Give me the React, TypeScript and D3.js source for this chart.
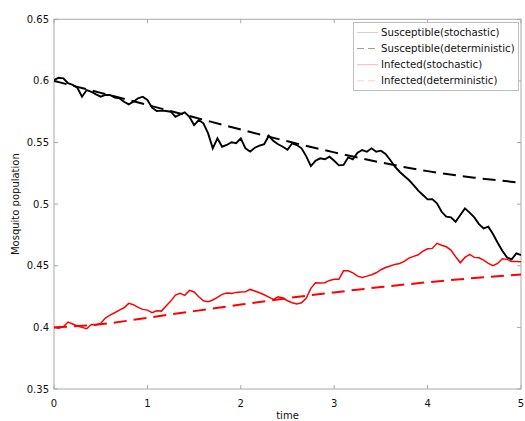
import React from "react";
import * as d3 from "d3";

const W = 525;
const H = 421;
const X0 = 54;
const X1 = 521;
const Y_TOP = 19.3;
const Y_BOT = 389;

const timeTicks = [0, 1, 2, 3, 4, 5];
const popTicks = [0.35, 0.4, 0.45, 0.5, 0.55, 0.6, 0.65];

// Stochastic runs sampled every 0.05 time units, t = 0 … 5
const stochasticStep = 0.05;
const susceptibleStochastic = [
  0.6007, 0.6026, 0.6021, 0.5981, 0.5967, 0.5945, 0.5872, 0.5926, 0.5912, 0.5891,
  0.5872, 0.5886, 0.5886, 0.5864, 0.5859, 0.5831, 0.581, 0.5831, 0.5859, 0.5872,
  0.5845, 0.5783, 0.5756, 0.5759, 0.5756, 0.575, 0.5709, 0.5728, 0.5745, 0.5709,
  0.5642, 0.5683, 0.5656, 0.5574, 0.5453, 0.5534, 0.5466, 0.548, 0.5502, 0.5494,
  0.5534, 0.5453, 0.5426, 0.5458, 0.5475, 0.5486, 0.5555, 0.5512, 0.5486, 0.5466,
  0.5441, 0.5494, 0.548, 0.5453, 0.539, 0.5309, 0.5352, 0.5372, 0.5364, 0.5385,
  0.5352, 0.5315, 0.5318, 0.538, 0.5364, 0.5417, 0.5439, 0.5425, 0.5453, 0.5425,
  0.5434, 0.5407, 0.5358, 0.5304, 0.5263, 0.5228, 0.5196, 0.5155, 0.5109, 0.5074,
  0.5039, 0.5041, 0.5006, 0.4938, 0.4898, 0.4893, 0.4857, 0.4912, 0.4966, 0.4931,
  0.4893, 0.4838, 0.4803, 0.4817, 0.4757, 0.4687, 0.4622, 0.4568, 0.4552, 0.46,
  0.4587,
];
const infectedStochastic = [
  0.4, 0.3994, 0.4005, 0.4043, 0.4027, 0.4011, 0.4, 0.3989, 0.4024, 0.4021,
  0.4032, 0.4076, 0.41, 0.4119, 0.414, 0.4159, 0.4195, 0.4184, 0.4162, 0.4146,
  0.414, 0.4119, 0.4135, 0.4132, 0.4173, 0.4213, 0.4262, 0.4276, 0.426, 0.43,
  0.4287, 0.4248, 0.4216, 0.4208, 0.4222, 0.4243, 0.4268, 0.4278, 0.4276, 0.4284,
  0.4287, 0.4289, 0.4308, 0.4295, 0.4281, 0.4265, 0.4246, 0.4227, 0.4248, 0.4238,
  0.4216, 0.42, 0.4189, 0.42, 0.4235, 0.4317, 0.4362, 0.436, 0.4362, 0.4381,
  0.439, 0.439, 0.4459, 0.4459, 0.4443, 0.4416, 0.4406, 0.4416, 0.4427, 0.4443,
  0.4468, 0.4486, 0.4498, 0.4511, 0.4519, 0.4535, 0.4562, 0.4576, 0.4589, 0.4619,
  0.4638, 0.4641, 0.4682, 0.4666, 0.4654, 0.4627, 0.4573, 0.4524, 0.4568, 0.4592,
  0.4568, 0.4565, 0.4546, 0.4519, 0.45, 0.4519, 0.4557, 0.4552, 0.4535, 0.4535,
  0.4532,
];

// Deterministic solutions sampled every 0.5 time units
const deterministicTime = [0, 0.5, 1, 1.5, 2, 2.5, 3, 3.5, 4, 4.5, 5];
const susceptibleDeterministic = [
  0.6, 0.5903, 0.5805, 0.5705, 0.5605, 0.551, 0.542, 0.5338, 0.5268, 0.5215, 0.5174,
];
const infectedDeterministic = [
  0.4, 0.4025, 0.4078, 0.4132, 0.4185, 0.4237, 0.4284, 0.4327, 0.4366, 0.44, 0.443,
];

const legendItems = [
  { label: "Susceptible(stochastic)", color: "#d2d2d2", dash: null },
  { label: "Susceptible(deterministic)", color: "#9a9a9a", dash: "7,4" },
  { label: "Infected(stochastic)", color: "#ffb4b4", dash: null },
  { label: "Infected(deterministic)", color: "#ffcccc", dash: "7,4" },
];

const FONT = "'DejaVu Sans', Verdana, sans-serif";
const FRAME = "#a8a8a8";

export default function App() {
  const x = d3.scaleLinear().domain([0, 5]).range([X0, X1]);
  const y = d3.scaleLinear().domain([0.35, 0.65]).range([Y_BOT, Y_TOP]);

  const pts = (vals: number[]) =>
    vals.map((v, i) => [i * stochasticStep, v] as [number, number]);
  const detPts = (vals: number[]) =>
    vals.map((v, i) => [deterministicTime[i], v] as [number, number]);

  const jagged = d3
    .line<[number, number]>()
    .x((d) => x(d[0]))
    .y((d) => y(d[1]));
  const smooth = d3
    .line<[number, number]>()
    .x((d) => x(d[0]))
    .y((d) => y(d[1]))
    .curve(d3.curveMonotoneX);

  const tickLen = 4;

  return (
    <svg
      width={W}
      height={H}
      style={{ position: "absolute", left: 0, top: 0, background: "#fff" }}
      fontFamily={FONT}
    >
      <defs>
        <clipPath id="plot-area">
          <rect x={X0} y={Y_TOP} width={X1 - X0} height={Y_BOT - Y_TOP} />
        </clipPath>
      </defs>

      {/* axes frame */}
      <rect
        x={X0}
        y={Y_TOP}
        width={X1 - X0}
        height={Y_BOT - Y_TOP}
        fill="none"
        stroke={FRAME}
        strokeWidth={1}
      />

      {/* inward ticks on all four sides */}
      {timeTicks.map((t) => (
        <g key={"xt" + t}>
          <line x1={x(t)} x2={x(t)} y1={Y_BOT} y2={Y_BOT - tickLen} stroke={FRAME} />
          <line x1={x(t)} x2={x(t)} y1={Y_TOP} y2={Y_TOP + tickLen} stroke={FRAME} />
          <text
            x={x(t)}
            y={403}
            dy="0.35em"
            textAnchor="middle"
            fontSize={10}
            fill="#111"
          >
            {t}
          </text>
        </g>
      ))}
      {popTicks.map((p) => (
        <g key={"yt" + p}>
          <line x1={X0} x2={X0 + tickLen} y1={y(p)} y2={y(p)} stroke={FRAME} />
          <line x1={X1} x2={X1 - tickLen} y1={y(p)} y2={y(p)} stroke={FRAME} />
          <text
            x={49}
            y={y(p)}
            dy="0.35em"
            textAnchor="end"
            fontSize={10}
            fill="#111"
          >
            {d3.format("")(p)}
          </text>
        </g>
      ))}

      {/* axis titles */}
      <text x={(X0 + X1) / 2} y={415} dy="0.35em" textAnchor="middle" fontSize={10} fill="#111">
        time
      </text>
      <text
        transform={`translate(15,${(Y_TOP + Y_BOT) / 2}) rotate(-90)`}
        dy="0.35em"
        textAnchor="middle"
        fontSize={10}
        fill="#111"
      >
        Mosquito population
      </text>

      {/* series */}
      <g clipPath="url(#plot-area)" fill="none" strokeLinejoin="miter">
        <path
          d={smooth(detPts(infectedDeterministic)) || ""}
          stroke="#ff0000"
          strokeWidth={2}
          strokeDasharray="13,7"
        />
        <path
          d={jagged(pts(infectedStochastic)) || ""}
          stroke="#ff0000"
          strokeWidth={1.5}
        />
        <path
          d={smooth(detPts(susceptibleDeterministic)) || ""}
          stroke="#000"
          strokeWidth={2}
          strokeDasharray="13,7"
        />
        <path
          d={jagged(pts(susceptibleStochastic)) || ""}
          stroke="#000"
          strokeWidth={1.9}
        />
      </g>

      {/* legend */}
      <g>
        <rect x={353.5} y={22.5} width={165} height={68} fill="#fff" stroke="#bdbdbd" />
        {legendItems.map((item, i) => {
          const ly = 32.5 + i * 16.1;
          return (
            <g key={item.label}>
              <line
                x1={357}
                x2={378}
                y1={ly}
                y2={ly}
                stroke={item.color}
                strokeWidth={1}
                strokeDasharray={item.dash || undefined}
              />
              <text x={381} y={ly} dy="0.35em" fontSize={10.2} fill="#111">
                {item.label}
              </text>
            </g>
          );
        })}
      </g>
    </svg>
  );
}
